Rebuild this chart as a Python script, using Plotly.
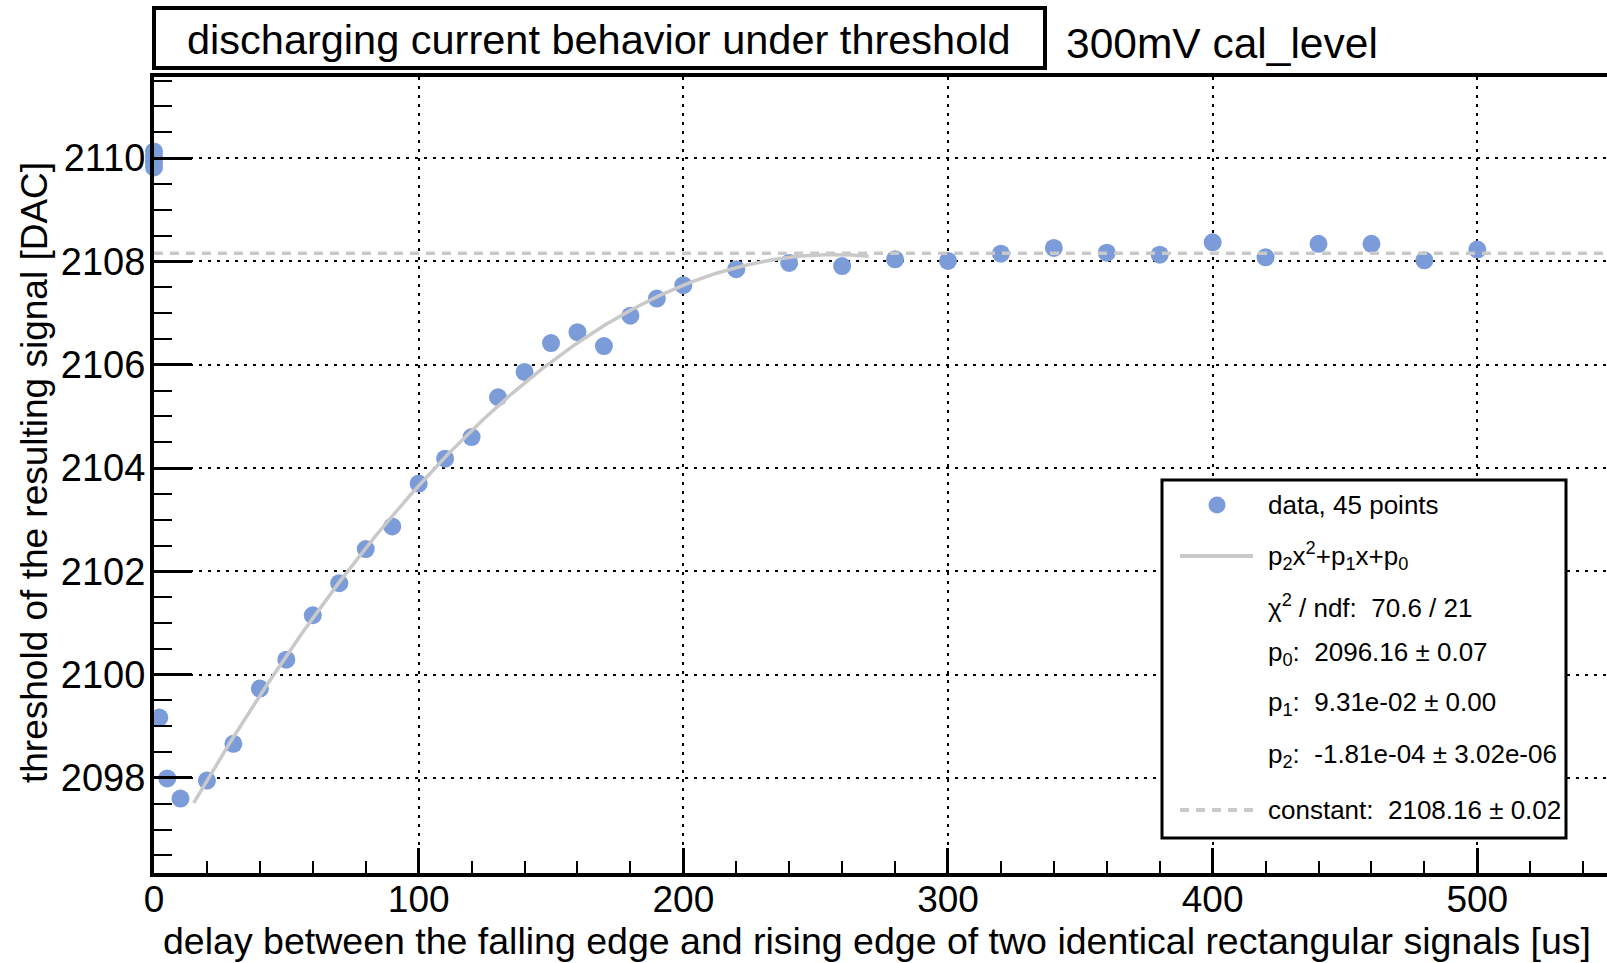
import numpy as np
import plotly.graph_objects as go

# ---------------- data ----------------
delay_us = [0, 0, 0, 0, 2, 5, 10, 20, 30, 40, 50, 60, 70, 80, 90, 100, 110, 120, 130,
            140, 150, 160, 170, 180, 190, 200, 220, 240, 260, 280, 300, 320, 340, 360,
            380, 400, 420, 440, 460, 480, 500]
threshold_dac = [2110.13, 2110.03, 2109.92, 2109.82, 2099.17, 2097.99, 2097.60, 2097.95,
                 2098.66, 2099.73, 2100.29, 2101.15, 2101.77, 2102.43, 2102.87, 2103.70,
                 2104.18, 2104.60, 2105.37, 2105.86, 2106.42, 2106.63, 2106.36, 2106.95,
                 2107.28, 2107.54, 2107.85, 2107.97, 2107.91, 2108.04, 2108.01, 2108.15,
                 2108.26, 2108.17, 2108.13, 2108.37, 2108.08, 2108.34, 2108.34, 2108.02,
                 2108.23]

# fit parameters (from the fit box)
p0, p1, p2 = 2096.16, 9.31e-02, -1.81e-04
fit_range = [15, 270]
constant = 2108.16

x_range = [0, 549]
y_range = [2096.16, 2111.57]

legend_lines = [
    "data, 45 points",
    "p<sub>2</sub>x<sup>2</sup>+p<sub>1</sub>x+p<sub>0</sub>",
    "\u03c7<sup>2</sup> / ndf:\u00a0\u00a070.6 / 21",
    "p<sub>0</sub>:\u00a0\u00a02096.16 \u00b1 0.07",
    "p<sub>1</sub>:\u00a0\u00a09.31e-02 \u00b1 0.00",
    "p<sub>2</sub>:\u00a0\u00a0-1.81e-04 \u00b1 3.02e-06",
    "constant:\u00a0\u00a02108.16 \u00b1 0.02",
]

title_text = "discharging current behavior under threshold"
subtitle_text = "300mV cal_level"
x_title = "delay between the falling edge and rising edge of two identical rectangular signals [us]"
y_title = "threshold of the resulting signal [DAC]"

# ---------------- styles ----------------
FONT = "Liberation Sans, Arial, Helvetica, sans-serif"
BLUE = "#7b9bd9"
GREY = "#c9c9c9"
W, H = 1607, 963
L, R, T, B = 154, 1607, 77, 873


def px(x):
    return (x - L) / (R - L)


def py(y):
    return (B - y) / (B - T)


fit_x = np.linspace(fit_range[0], fit_range[1], 300)
fit_y = p2 * fit_x ** 2 + p1 * fit_x + p0

fig = go.Figure()
fig.add_trace(go.Scatter(x=delay_us, y=threshold_dac, mode="markers",
                         marker=dict(size=18, color=BLUE, line=dict(width=0)),
                         showlegend=False, cliponaxis=False))
fig.add_trace(go.Scatter(x=x_range, y=[constant, constant], mode="lines",
                         line=dict(color=GREY, width=3.5, dash="9px,7px"),
                         showlegend=False))
fig.add_trace(go.Scatter(x=fit_x, y=fit_y, mode="lines",
                         line=dict(color=GREY, width=3.5), showlegend=False))

grid_dash = "3px,6px"
fig.update_xaxes(range=x_range, showline=True, linecolor="black", linewidth=4,
                 mirror=True, ticks="inside", ticklen=25, tickwidth=2.5,
                 tickcolor="black", dtick=100, tick0=0,
                 showgrid=True, gridcolor="black", gridwidth=2, griddash=grid_dash,
                 zeroline=False, ticklabelstandoff=-9,
                 tickfont=dict(family=FONT, size=37, color="black"),
                 minor=dict(dtick=20, tick0=0, ticks="inside", ticklen=12,
                            tickwidth=2, tickcolor="black", showgrid=False))
fig.update_yaxes(range=y_range, showline=True, linecolor="black", linewidth=4,
                 ticks="inside", ticklen=38, tickwidth=2.5, tickcolor="black",
                 dtick=2, tick0=2096,
                 showgrid=True, gridcolor="black", gridwidth=2, griddash=grid_dash,
                 zeroline=False, ticklabelstandoff=-3,
                 tickfont=dict(family=FONT, size=38, color="black"),
                 minor=dict(dtick=0.5, tick0=2096, ticks="inside", ticklen=18,
                            tickwidth=2, tickcolor="black", showgrid=False))

shapes = []
# title box
shapes.append(dict(type="rect", xref="paper", yref="paper",
                   x0=px(154), x1=px(1045), y0=py(68), y1=py(8),
                   line=dict(color="black", width=4), fillcolor="white", layer="above"))
# legend box
shapes.append(dict(type="rect", xref="paper", yref="paper",
                   x0=px(1162), x1=px(1566), y0=py(838), y1=py(480),
                   line=dict(color="black", width=3), fillcolor="white", layer="above"))

row_y = [505, 556, 606, 653, 703, 755, 810]
# legend symbols
shapes.append(dict(type="circle", xref="paper", yref="paper",
                   xsizemode="pixel", ysizemode="pixel",
                   xanchor=px(1217), yanchor=py(row_y[0]),
                   x0=-8.5, x1=8.5, y0=-8.5, y1=8.5,
                   fillcolor=BLUE, line=dict(width=0), layer="above"))
shapes.append(dict(type="line", xref="paper", yref="paper",
                   x0=px(1180), x1=px(1253), y0=py(row_y[1]), y1=py(row_y[1]),
                   line=dict(color=GREY, width=4), layer="above"))
shapes.append(dict(type="line", xref="paper", yref="paper",
                   x0=px(1180), x1=px(1253), y0=py(row_y[6]), y1=py(row_y[6]),
                   line=dict(color=GREY, width=4, dash="9px,7px"), layer="above"))

annotations = []
annotations.append(dict(text=title_text, xref="paper", yref="paper",
                        x=px(599), y=py(40), xanchor="center", yanchor="middle",
                        showarrow=False, font=dict(family=FONT, size=41.5, color="black")))
annotations.append(dict(text=subtitle_text, xref="paper", yref="paper",
                        x=px(1064), y=py(43), xanchor="left", yanchor="middle",
                        showarrow=False, font=dict(family=FONT, size=42.5, color="black")))
annotations.append(dict(text=x_title, xref="paper", yref="paper",
                        x=px(877), y=py(941), xanchor="center", yanchor="middle",
                        showarrow=False, font=dict(family=FONT, size=37.5, color="black")))
annotations.append(dict(text=y_title, xref="paper", yref="paper",
                        x=px(34), y=py(473), xanchor="center", yanchor="middle",
                        textangle=-90,
                        showarrow=False, font=dict(family=FONT, size=37, color="black")))
for txt, yy in zip(legend_lines, row_y):
    annotations.append(dict(text=txt, xref="paper", yref="paper",
                            x=px(1266), y=py(yy), xanchor="left", yanchor="middle",
                            showarrow=False,
                            font=dict(family=FONT, size=26, color="black")))

fig.update_layout(width=W, height=H, margin=dict(l=L, r=W - R, t=T, b=H - B, pad=0),
                  paper_bgcolor="white", plot_bgcolor="white",
                  shapes=shapes, annotations=annotations, showlegend=False)

fig.write_html("out.html")
